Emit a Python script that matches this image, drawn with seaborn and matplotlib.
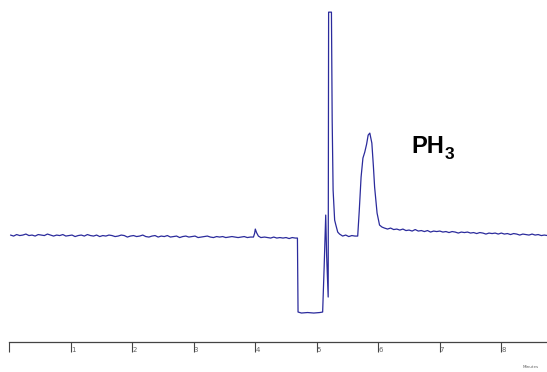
import numpy as np
import seaborn as sns
import matplotlib.pyplot as plt

# detector signal (arbitrary units, baseline ~0)
left_t0 = 0.02
left_step = 0.05
left_signal = [1, 0, 1.5, 0.5, 1, 2, 0.5, 1, 0, 1.5, 1, 0.5, 2, 1, 0, 1, 0.5, 1.5, 0, 0.5,
               1, -0.5, 0.5, 1, 0, 1.5, 0.5, 0, 1, -0.5, 0.5, 0, 1, 0.5, -0.5, 0, 1, 0.5, -1, 0,
               0.5, -0.5, 0, 1, -0.5, -1, 0, 0.5, -1, 0, -0.5, 0.5, -1, -0.5, 0, -1.5, -0.5, 0, -1, -0.5,
               0, -1.5, -1, -0.5, 0, -1, -1.5, -0.5, -1, -0.5, -1.5, -1, -0.5, -1, -1.5, -1, -0.5, -1.5, -1]

mid_time = [3.97, 3.99, 4.00, 4.02, 4.05, 4.09, 4.15, 4.20, 4.25, 4.30, 4.35, 4.40, 4.45, 4.50,
            4.55, 4.60, 4.65, 4.685, 4.695, 4.75, 4.85, 4.95, 5.05, 5.095, 5.12, 5.145, 5.16, 5.175,
            5.185, 5.192, 5.238, 5.25, 5.265, 5.29, 5.31, 5.34, 5.37, 5.42, 5.47, 5.52, 5.57, 5.62,
            5.665, 5.69, 5.72, 5.75, 5.78, 5.81, 5.835, 5.862, 5.895, 5.92, 5.94, 5.98, 6.02, 6.06]
mid_signal = [-1, 3, 7, 3.5, 0, -1.5, -1, -1.5, -2, -1, -2, -1.5, -2, -1.5,
              -2.5, -1.5, -2, -2, -76, -77, -76.5, -77, -76.5, -76, -30, 21, -20, -45,
              -61, 224, 224, 116, 46, 16, 11, 4, 2, 0, 1, -0.5, 0.5, 0,
              0, 25, 59, 78, 84, 92, 101, 103, 93, 70, 49, 23, 11, 9]

right_t0 = 6.10
right_step = 0.05
right_signal = [8, 7, 8, 6.5, 7, 6, 7, 5.5, 6, 5, 6.5, 5, 5.5, 4.5, 5.5, 4, 5, 4.5, 5, 4,
                4.5, 3.5, 4.5, 4, 3, 4, 3.5, 4, 3, 3.5, 2.5, 3.5, 3, 2, 3, 2.5, 3, 2, 3, 2,
                2.5, 1.5, 2.5, 2, 1, 2, 1.5, 1, 2, 1, 1.5, 0.5, 1, 0.5]

minute_ticks = [0, 1, 2, 3, 4, 5, 6, 7, 8]
minute_labels = ['', '1', '2', '3', '4', '5', '6', '7', '8']

time = np.concatenate([left_t0 + left_step * np.arange(len(left_signal)),
                       mid_time,
                       right_t0 + right_step * np.arange(len(right_signal))])
signal = np.concatenate([left_signal, mid_signal, right_signal])

sns.set_style('white')
fig = plt.figure(figsize=(5.47, 3.72), dpi=100)
ax = fig.add_axes([0.017, 0.0806, 0.983, 0.919])

sns.lineplot(x=time, y=signal, ax=ax, color='#2b2b9c', linewidth=0.9,
             estimator=None, sort=False)

ax.set_xlim(0, 8.743)
ax.set_ylim(-106, 236)

for side in ['top', 'left', 'right']:
    ax.spines[side].set_visible(False)
ax.spines['bottom'].set_color('#444444')
ax.spines['bottom'].set_linewidth(0.9)

ax.set_yticks([])
ax.set_xticks(minute_ticks)
ax.set_xticklabels(minute_labels, fontsize=5, color='#666666')
ax.tick_params(axis='x', direction='out', length=7, width=0.8, colors='#444444',
               labelcolor='#666666', pad=-3.2, bottom=True)
plt.setp(ax.get_xticklabels(), ha='left')
ax.set_xlabel('')
ax.set_ylabel('')

# peak label PH3, subscript placed after the PH text
ph = ax.text(6.53, 83, 'PH', fontsize=17, fontweight='bold', family='Liberation Sans',
             va='baseline', ha='left', color='black')
ax.annotate('3', xy=(1, 0), xycoords=ph, xytext=(0.5, -0.7), textcoords='offset points',
            fontsize=12.5, fontweight='bold', family='Liberation Sans',
            va='baseline', ha='left', color='black')

fig.text(0.956, 0.008, 'Minutes', fontsize=3, color='#666666', ha='left', va='bottom')

fig.savefig('out.png', dpi=100)
